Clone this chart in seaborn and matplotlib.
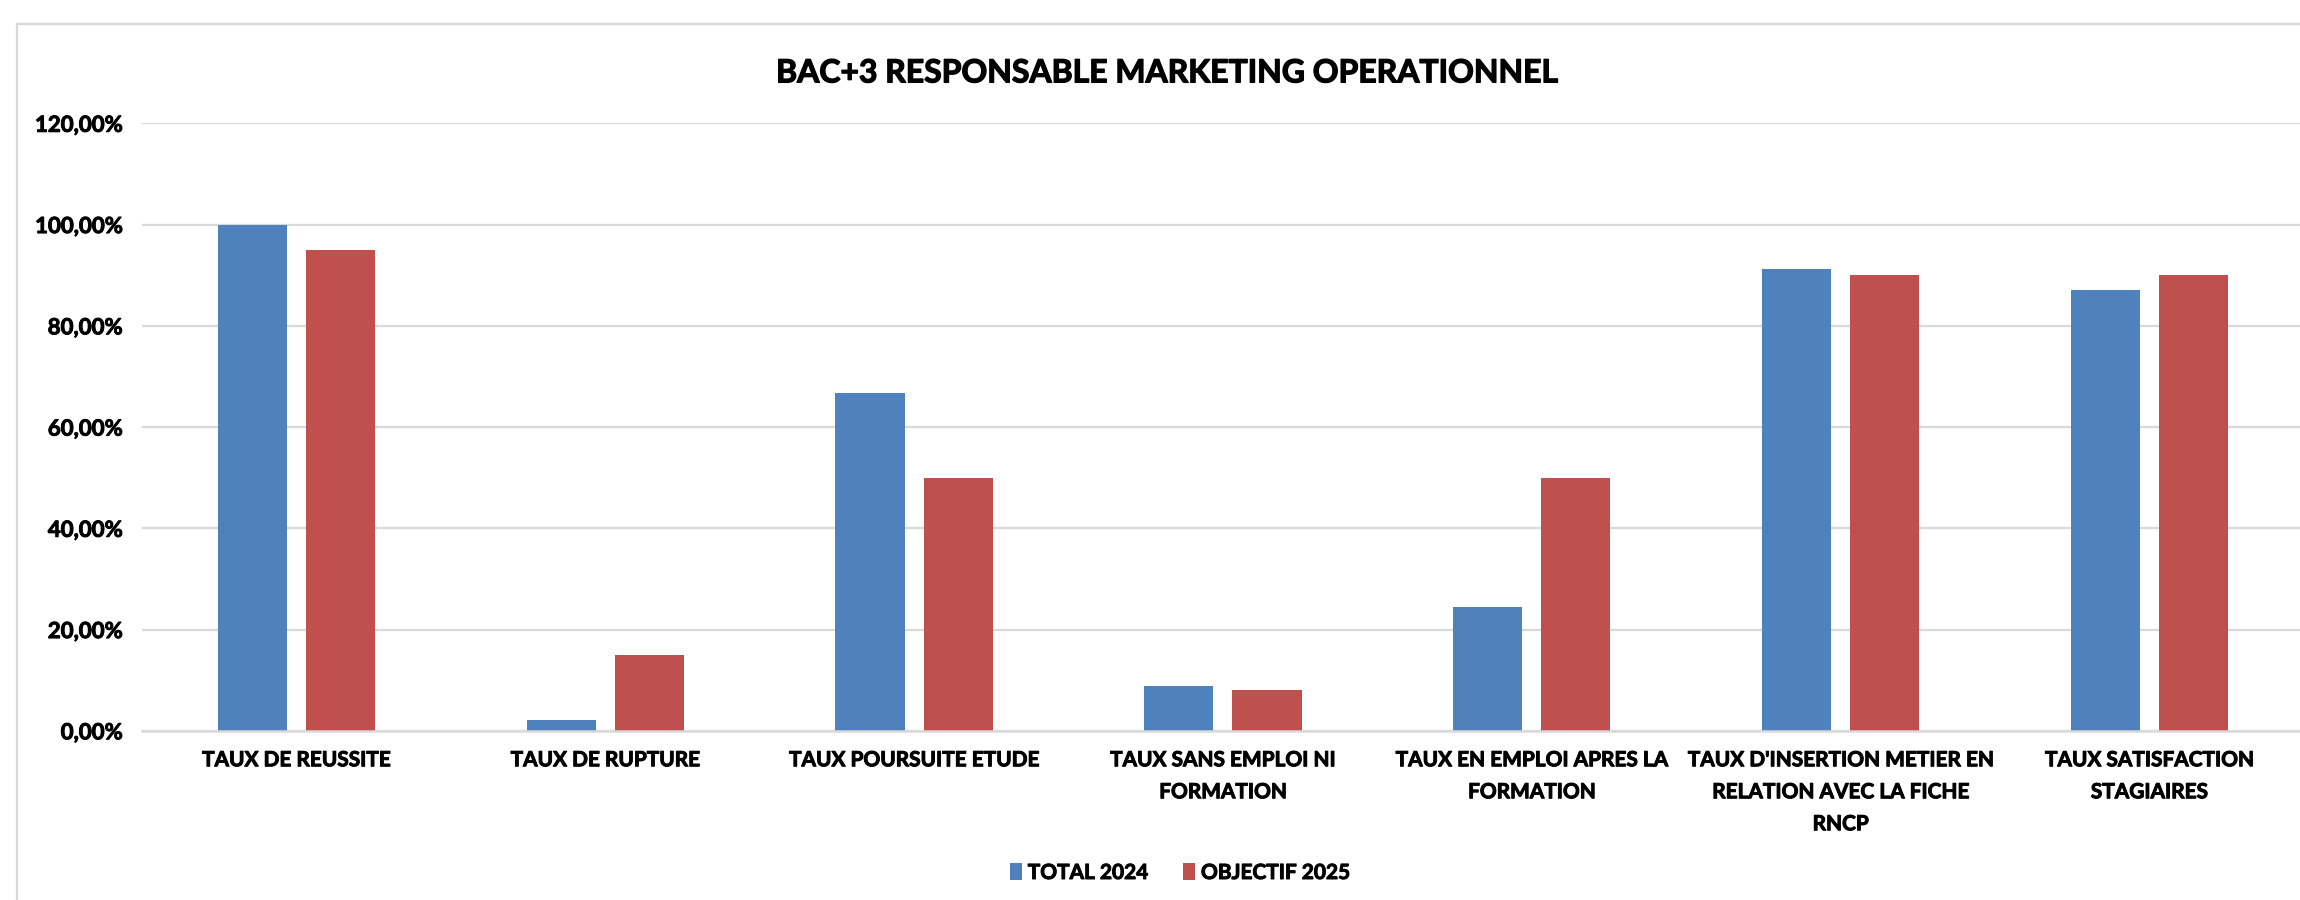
import pandas as pd
import seaborn as sns
import matplotlib.pyplot as plt
import matplotlib.patheffects as pe
from matplotlib.patches import Rectangle, Patch
from matplotlib.ticker import FuncFormatter

# -----------------------------
# Data
# -----------------------------
categories = [
    "TAUX DE REUSSITE",
    "TAUX DE RUPTURE",
    "TAUX POURSUITE ETUDE",
    "TAUX SANS EMPLOI NI\nFORMATION",
    "TAUX EN EMPLOI APRES LA\nFORMATION",
    "TAUX D'INSERTION METIER EN\nRELATION AVEC LA FICHE\nRNCP",
    "TAUX SATISFACTION\nSTAGIAIRES",
]
total_2024 = [1.00, 0.021, 0.6667, 0.089, 0.245, 0.912, 0.87]
objectif_2025 = [0.95, 0.15, 0.50, 0.08, 0.50, 0.90, 0.90]
series_names = ["TOTAL 2024", "OBJECTIF 2025"]
title = "BAC+3 RESPONSABLE MARKETING OPERATIONNEL"

colors = ["#4F81BD", "#C0504D"]
grid_color = "#D9D9D9"

df = pd.DataFrame({
    "categorie": categories * 2,
    "valeur": total_2024 + objectif_2025,
    "serie": [series_names[0]] * len(categories) + [series_names[1]] * len(categories),
})

# -----------------------------
# Style
# -----------------------------
sns.set_style("white")
plt.rcParams["font.family"] = ["Lato", "DejaVu Sans"]
plt.rcParams["font.weight"] = "bold"
plt.rcParams["text.color"] = "black"
thick = [pe.withStroke(linewidth=0.7, foreground="black")]

fig = plt.figure(figsize=(23, 9), dpi=100)
ax = fig.add_axes([0.0617, 0.188, 0.94, 0.675])

sns.barplot(data=df, x="categorie", y="valeur", hue="serie", palette=colors,
            width=0.571, gap=0.216, saturation=1, linewidth=0, ax=ax)

ax.set_ylim(0, 1.2)
ax.set_yticks([0, 0.2, 0.4, 0.6, 0.8, 1.0, 1.2])
ax.yaxis.set_major_formatter(FuncFormatter(lambda v, p: f"{v * 100:.2f}%".replace(".", ",")))
ax.set_xlim(-0.5, len(categories) - 0.5)
ax.set_xlabel("")
ax.set_ylabel("")

ax.yaxis.grid(True, color=grid_color, lw=1.6)
ax.set_axisbelow(True)
for s in ["left", "right", "top"]:
    ax.spines[s].set_visible(False)
ax.spines["bottom"].set_color(grid_color)
ax.spines["bottom"].set_linewidth(1.8)

ax.tick_params(axis="both", length=0, labelcolor="black")
ax.tick_params(axis="x", pad=14, labelsize=15)
ax.tick_params(axis="y", pad=14, labelsize=16)
for lbl in ax.get_xticklabels():
    lbl.set_fontweight("bold")
    lbl.set_linespacing(1.75)
    lbl.set_path_effects(thick)
for lbl in ax.get_yticklabels():
    lbl.set_fontweight("bold")
    lbl.set_path_effects(thick)

# legend
if ax.get_legend() is not None:
    ax.get_legend().remove()
handles = [Patch(facecolor=c, edgecolor="none") for c in colors]
leg = fig.legend(handles, series_names, loc="center", bbox_to_anchor=(0.513, 0.03),
                 ncol=2, frameon=False, handlelength=0.55, handleheight=0.9,
                 handletextpad=0.3, columnspacing=1.7, prop={"weight": "bold", "size": 15})
for t in leg.get_texts():
    t.set_color("black")
    t.set_path_effects(thick)

# title
fig.text(0.508, 0.919, title, ha="center", va="center", fontsize=23, fontweight="bold",
         color="black", path_effects=[pe.withStroke(linewidth=0.9, foreground="black")])

# chart border (cut off on the right and bottom like the reference)
fig.patches.append(Rectangle((17 / 2300, -0.05), 1.1, 0.05 + (900 - 24) / 900,
                             transform=fig.transFigure, fill=False,
                             edgecolor=grid_color, lw=1.6))

fig.savefig("out.png", dpi=100, facecolor="white")
